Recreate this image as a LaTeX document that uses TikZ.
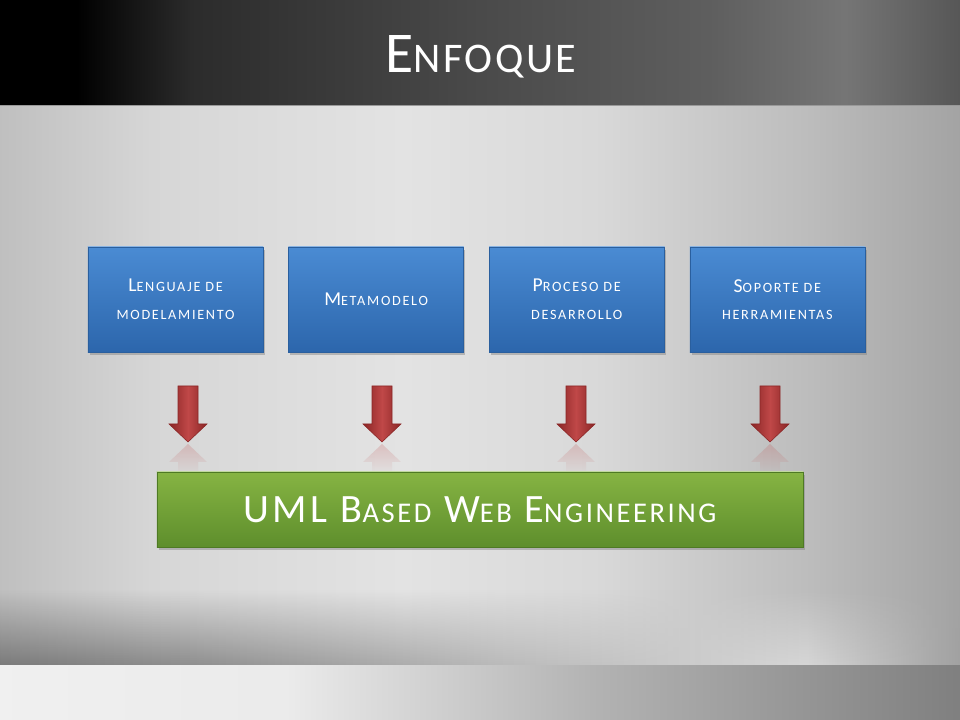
\documentclass[tikz,border=0pt]{standalone}
\usepackage{fontspec}
\setmainfont{Carlito}
\usetikzlibrary{positioning,shadows,fadings}
\definecolor{boxTop}{HTML}{4A8BD3}
\definecolor{boxBot}{HTML}{2C66AC}
\definecolor{boxEdge}{HTML}{2A5F9E}
\definecolor{barTop}{HTML}{86B443}
\definecolor{barBot}{HTML}{5E8E2C}
\definecolor{barEdge}{HTML}{4E7A24}
\definecolor{arrowMid}{HTML}{C04848}
\definecolor{arrowDark}{HTML}{8A2626}
\pgfdeclarehorizontalshading{bandTop}{100bp}{color(0bp)=(black); color(29bp)=(black); color(35bp)=(black!83); color(50bp)=(black!71); color(62bp)=(black!63); color(69bp)=(black!54); color(75bp)=(black!66); color(100bp)=(black!66)}
\pgfdeclarehorizontalshading{bandMain}{100bp}{color(0bp)=(black!25); color(25bp)=(black!25); color(33bp)=(black!16); color(46bp)=(black!11); color(56bp)=(black!15); color(67bp)=(black!26); color(75bp)=(black!36); color(100bp)=(black!36)}
\pgfdeclarehorizontalshading{bandLow}{100bp}{color(0bp)=(black!52); color(25bp)=(black!52); color(35bp)=(black!44); color(51bp)=(black!27); color(67bp)=(black!16); color(75bp)=(black!37); color(100bp)=(black!37)}
\pgfdeclarehorizontalshading{bandFoot}{100bp}{color(0bp)=(black!6); color(25bp)=(black!6); color(40bp)=(black!8); color(56bp)=(black!30); color(75bp)=(black!50); color(100bp)=(black!50)}
\newcommand\lowsc[2]{{\fontsize{#1}{#1}\selectfont #2}}
\tikzset{
  blueBox/.style={draw=boxEdge,top color=boxTop,bottom color=boxBot,text=white,
    minimum width=4.375cm,minimum height=2.625cm,align=center,inner sep=0pt,
    font=\addfontfeature{LetterSpace=12}\fontsize{14}{19.6}\selectfont,
    drop shadow={opacity=0.45,shadow xshift=1.2pt,shadow yshift=-1.8pt},
    path picture={\draw[white,opacity=0.35,line width=1.4pt]
      (path picture bounding box.north west)--(path picture bounding box.north east);}},
  greenBar/.style={draw=barEdge,top color=barTop,bottom color=barBot,text=white,
    minimum width=16.15cm,minimum height=1.875cm,inner sep=0pt,
    font=\addfontfeature{LetterSpace=9}\fontsize{28.6}{30}\selectfont,
    drop shadow={opacity=0.45,shadow xshift=1.2pt,shadow yshift=-1.8pt},
    path picture={\draw[white!80!barTop,opacity=0.6,line width=2pt]
      (path picture bounding box.north west)--(path picture bounding box.north east);}},
  redArrow/.style={draw=arrowDark,line width=0.4pt,left color=arrowDark,right color=arrowDark,middle color=arrowMid},
  arrowGhost/.style={fill=arrowMid,opacity=0.22,path fading=south}
}
\begin{document}
\begin{tikzpicture}[x={(0.025cm,0)},y={(0,-0.025cm)}]
\useasboundingbox(0,0)rectangle(960,720);
%
\shade[shading=bandMain](0,105)rectangle(960,665);
\shade[shading=bandLow,path fading=north](0,590)rectangle(960,665);
\shade[shading=bandFoot](0,665)rectangle(960,720);
\shade[shading=bandTop](0,0)rectangle(960,105);
\draw[black!40,line width=0.6pt](0,105.5)--(960,105.5);
\node[text=white,font=\addfontfeature{LetterSpace=6}\fontsize{41}{48}\selectfont](title)at(481,57){E\lowsc{30}{NFOQUE}};
%
\node[blueBox](lang)at(175.5,299.5){L\lowsc{10.1}{ENGUAJE DE}\\\lowsc{10.1}{MODELAMIENTO}};
\node[blueBox,right=0.625cm of lang](meta){M\lowsc{10.1}{ETAMODELO}};
\node[blueBox,right=0.625cm of meta](proc){P\lowsc{10.1}{ROCESO DE}\\\lowsc{10.1}{DESARROLLO}};
\node[blueBox,right=0.625cm of proc](tool){S\lowsc{10.1}{OPORTE DE}\\\lowsc{10.1}{HERRAMIENTAS}};
%
\foreach \cx in {188,382,576,770}{
  \shade[redArrow](\cx-10,386)--(\cx+10,386)--(\cx+10,424)--(\cx+19,424)--(\cx,442)--(\cx-19,424)--(\cx-10,424)--cycle;
  \fill[arrowGhost](\cx,444)--(\cx+19,462)--(\cx+10,462)--(\cx+10,474)--(\cx-10,474)--(\cx-10,462)--(\cx-19,462)--cycle;
}
%
\node[greenBar](uwe)at(480,509.5){UML B\lowsc{20.3}{ASED} W\lowsc{20.3}{EB} E\lowsc{20.3}{NGINEERING}};
\end{tikzpicture}
\end{document}
